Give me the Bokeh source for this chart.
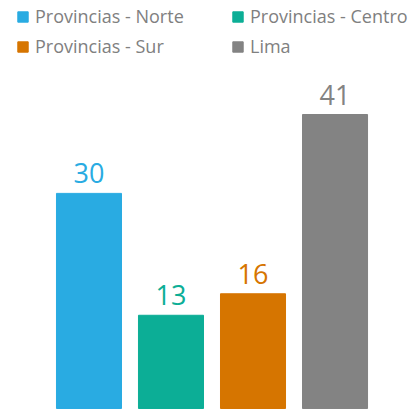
from bokeh.plotting import figure
from bokeh.models import ColumnDataSource, Range1d, Legend, LegendItem
from bokeh.core.properties import value
from bokeh.embed import file_html
from bokeh.resources import INLINE

categories = ["Provincias - Norte", "Provincias - Centro", "Provincias - Sur", "Lima"]
values = [30, 13, 16, 41]
colors = ["#29ABE2", "#0CAE96", "#D67500", "#838383"]
labels = ["30", "13", "16", "41"]

FONT = "Open Sans"

src = ColumnDataSource(dict(
    x=list(range(len(categories))),
    top=values,
    color=colors,
    label=labels,
    cat=categories,
))

p = figure(width=413, height=410, output_backend="svg", toolbar_location=None,
           x_range=Range1d(-1.079, 3.957), y_range=Range1d(-0.28, 56.9),
           min_border=0, min_border_left=0, min_border_right=0,
           min_border_top=0, min_border_bottom=0)
p.axis.visible = False
p.grid.visible = False
p.outline_line_color = None
p.background_fill_color = "white"
p.border_fill_color = "white"

r = p.vbar(x="x", top="top", bottom=0, width=0.793, color="color", source=src)

p.text(x="x", y="top", text="label", text_color="color", source=src,
       text_align="center", text_baseline="alphabetic", y_offset=-20,
       text_font=value(FONT), text_font_size="27px")

def make_legend(idx, loc):
    items = [LegendItem(label=categories[i], renderers=[r], index=i) for i in idx]
    lg = Legend(items=items, location=loc, orientation="vertical",
                padding=0, margin=0, spacing=6,
                glyph_width=13, glyph_height=13, label_standoff=6,
                label_height=20,
                label_text_font=FONT, label_text_font_size="18px",
                label_text_color="#808080",
                border_line_alpha=0, background_fill_alpha=0)
    return lg

p.add_layout(make_legend([0, 2], (16, 352)))
p.add_layout(make_legend([1, 3], (231, 352)))

open("out.html", "w").write(file_html(p, INLINE))
